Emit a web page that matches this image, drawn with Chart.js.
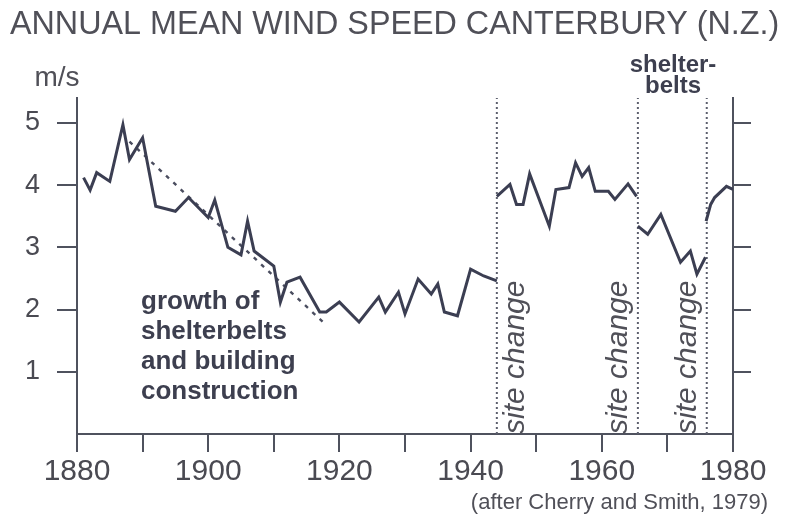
<!DOCTYPE html>
<html>
<head>
<meta charset="utf-8">
<script src="https://cdn.jsdelivr.net/npm/chart.js@4.4.1/dist/chart.umd.min.js"></script>
<style>
  body { margin: 0; background: #fff; }
  canvas { display: block; }
</style>
</head>
<body>
<canvas id="windChart" width="787" height="516"></canvas>
<script>
// Datos (m/s por año)
const years1 = [1881, 1882, 1883, 1885, 1887, 1888, 1890, 1892, 1895, 1897, 1900, 1901, 1903, 1905, 1906, 1907, 1910, 1911, 1912, 1914, 1917, 1918, 1920, 1923, 1926, 1927, 1929, 1930, 1932, 1934, 1935, 1936, 1938, 1940, 1942, 1944];
const speed1 = [4.12, 3.92, 4.2, 4.06, 4.97, 4.41, 4.76, 3.66, 3.58, 3.8, 3.48, 3.76, 3.0, 2.88, 3.42, 2.94, 2.7, 2.12, 2.44, 2.52, 1.96, 1.96, 2.12, 1.8, 2.2, 1.96, 2.28, 1.93, 2.49, 2.25, 2.41, 1.96, 1.9, 2.65, 2.54, 2.46];

const years2 = [1944, 1946, 1947, 1948, 1949, 1952, 1953, 1955, 1956, 1957, 1958, 1959, 1961, 1962, 1964, 1965.3];
const speed2 = [3.82, 4.01, 3.69, 3.69, 4.18, 3.34, 3.93, 3.96, 4.36, 4.14, 4.28, 3.9, 3.9, 3.77, 4.02, 3.82];

const years3 = [1965.5, 1967, 1969, 1972, 1973.5, 1974.5, 1975.8];
const speed3 = [3.34, 3.21, 3.53, 2.76, 2.94, 2.57, 2.84];

const years4 = [1975.9, 1976.6, 1977.2, 1979, 1980];
const speed4 = [3.42, 3.69, 3.8, 3.98, 3.93];

// Línea de tendencia rayada (crecimiento de cortavientos)
const trendYears = [1888, 1917.5];
const trendSpeed = [4.7, 1.8];

// Cambios de sitio de la estación
const siteChangeYears = [1944, 1965.5, 1976];

const yTicks = [1, 2, 3, 4, 5];
const xLabelYears = [1880, 1900, 1920, 1940, 1960, 1980];

const ink = '#3b3e52';
const axisInk = '#4f525e';
const textInk = '#505058';

const toPoints = (xs, ys) => xs.map((x, i) => ({ x: x, y: ys[i] }));

const lineSet = (xs, ys) => ({
    data: toPoints(xs, ys),
    borderColor: ink,
    borderWidth: 3,
    pointRadius: 0,
    tension: 0,
    borderJoinStyle: 'miter'
});

const datasets = [
    lineSet(years1, speed1),
    lineSet(years2, speed2),
    lineSet(years3, speed3),
    lineSet(years4, speed4),
    {
        data: toPoints(trendYears, trendSpeed),
        borderColor: '#4a4d5f',
        borderWidth: 2.4,
        borderDash: [4, 6],
        pointRadius: 0
    }
];

siteChangeYears.forEach(yr => {
    datasets.push({
        data: [{ x: yr, y: 0 }, { x: yr, y: 5.4 }],
        borderColor: '#5d606e',
        borderWidth: 2,
        borderDash: [2, 3],
        pointRadius: 0
    });
});

// Textos dibujados encima del gráfico
const annotations = {
    id: 'annotations',
    afterDraw(chart) {
        const ctx = chart.ctx;
        const xs = chart.scales.x;
        ctx.save();

        ctx.fillStyle = textInk;
        ctx.textAlign = 'left';
        ctx.textBaseline = 'alphabetic';
        ctx.font = '32.3px "Liberation Sans", Arial, sans-serif';
        ctx.fillText('ANNUAL MEAN WIND SPEED CANTERBURY (N.Z.)', 10, 34);

        ctx.textAlign = 'center';
        ctx.font = '28px "Liberation Sans", Arial, sans-serif';
        ctx.fillText('m/s', 57, 86);

        ctx.fillStyle = '#3d3f4f';
        ctx.font = 'bold 24px "Liberation Sans", Arial, sans-serif';
        ctx.fillText('shelter-', 673, 72);
        ctx.fillText('belts', 673, 93);

        ctx.textAlign = 'left';
        ctx.font = 'bold 26px "Liberation Sans", Arial, sans-serif';
        ['growth of', 'shelterbelts', 'and building', 'construction'].forEach((line, i) => {
            ctx.fillText(line, 141, 309 + i * 30);
        });

        // "site change" girado junto a cada línea punteada
        ctx.fillStyle = textInk;
        ctx.font = 'italic 30px "Liberation Sans", Arial, sans-serif';
        const offsets = [27, -11, -11];
        siteChangeYears.forEach((yr, i) => {
            const px = xs.getPixelForValue(yr) + offsets[i];
            ctx.save();
            ctx.translate(px, 434);
            ctx.rotate(-Math.PI / 2);
            ctx.fillText('site change', 0, 0);
            ctx.restore();
        });

        ctx.textAlign = 'right';
        ctx.font = '22px "Liberation Sans", Arial, sans-serif';
        ctx.fillText('(after Cherry and Smith, 1979)', 768, 509);

        ctx.restore();
    }
};

const tickColor = ctx => (yTicks.includes(ctx.tick.value) ? axisInk : 'rgba(0,0,0,0)');

new Chart(document.getElementById('windChart').getContext('2d'), {
    type: 'line',
    data: { datasets: datasets },
    options: {
        responsive: false,
        animation: false,
        devicePixelRatio: 1,
        layout: { padding: { top: 98, left: 0, right: 0, bottom: 0 } },
        plugins: {
            legend: { display: false },
            tooltip: { enabled: false }
        },
        scales: {
            x: {
                type: 'linear',
                min: 1880,
                max: 1980,
                afterFit: s => { s.height = 82; },
                border: { display: true, color: axisInk, width: 2 },
                grid: { drawOnChartArea: false, tickLength: 18, color: axisInk, lineWidth: 2 },
                ticks: {
                    stepSize: 10,
                    autoSkip: false,
                    maxRotation: 0,
                    padding: 2,
                    color: '#4a4a52',
                    font: { family: '"Liberation Sans", Arial, sans-serif', size: 30 },
                    callback: v => (xLabelYears.includes(v) ? String(v) : '')
                }
            },
            y: {
                position: 'left',
                min: 0,
                max: 5.4,
                afterFit: s => { s.width = 77; },
                border: { display: true, color: axisInk, width: 2 },
                grid: { drawOnChartArea: false, tickLength: 20, color: tickColor, lineWidth: 2 },
                ticks: {
                    stepSize: 1,
                    includeBounds: false,
                    padding: 17,
                    color: '#4a4a52',
                    font: { family: '"Liberation Sans", Arial, sans-serif', size: 27 },
                    callback: v => (yTicks.includes(v) ? String(v) : '')
                }
            },
            y2: {
                position: 'right',
                min: 0,
                max: 5.4,
                afterFit: s => { s.width = 54; },
                border: { display: true, color: axisInk, width: 2 },
                grid: { drawOnChartArea: false, tickLength: 18, color: tickColor, lineWidth: 2 },
                ticks: {
                    stepSize: 1,
                    includeBounds: false,
                    callback: () => ''
                }
            }
        }
    },
    plugins: [annotations]
});
</script>
</body>
</html>
